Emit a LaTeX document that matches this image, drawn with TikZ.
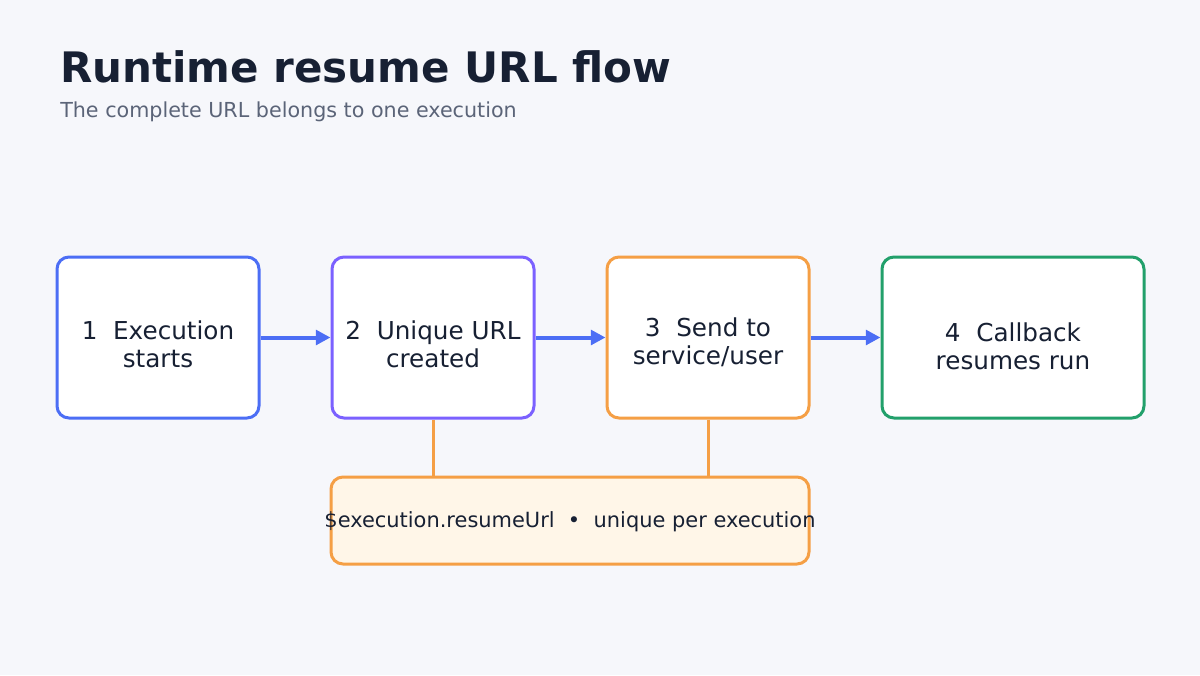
\documentclass[tikz,border=0pt]{standalone}
\usepackage{fontspec}
\setmainfont{DejaVu Sans}
\usetikzlibrary{arrows.meta}
\definecolor{bg}{HTML}{F6F7FB}
\definecolor{ink}{HTML}{172033}
\definecolor{sub}{HTML}{5B6478}
\definecolor{cblue}{HTML}{4C6EF5}
\definecolor{cpurp}{HTML}{7B61FF}
\definecolor{corange}{HTML}{F59F45}
\definecolor{cgreen}{HTML}{22A06B}
\definecolor{cream}{HTML}{FFF6E8}
\begin{document}
\begin{tikzpicture}[x=0.75pt,y=-0.75pt,
  box/.style={draw, line width=2.25pt, fill=white, rounded corners=9pt, inner sep=0pt, minimum height=120.75pt},
  lbl/.style={align=center, font=\fontsize{18.5}{21}\selectfont, text=ink, inner sep=0pt},
  arr/.style={draw=cblue, line width=3pt, -{Triangle[length=11pt,width=11pt]}},
  link/.style={draw=corange, line width=2.25pt}]
\fill[bg] (0,0) rectangle (1200,675);
\useasboundingbox (0,0) rectangle (1200,675);
\node[anchor=base west, inner sep=0pt, font=\fontsize{31.5}{36}\selectfont\bfseries, text=ink] (title) at (60,82) {Runtime resume URL flow};
\node[anchor=base west, inner sep=0pt, font=\fontsize{15.5}{18}\selectfont, text=sub] (subt) at (60,117) {The complete URL belongs to one execution};
\node[box, draw=cblue, minimum width=151.5pt] (b1) at (158,337.5) {};
\node[box, draw=cpurp, minimum width=151.5pt] (b2) at (433,337.5) {};
\node[box, draw=corange, minimum width=151.5pt] (b3) at (708,337.5) {};
\node[box, draw=cgreen, minimum width=196.5pt] (b4) at (1013,337.5) {};
\node[lbl] (t1) at (158,344) {1\ \ Execution\\starts};
\node[lbl] (t2) at (433,344) {2\ \ Unique URL\\created};
\node[lbl] (t3) at (708,342) {3\ \ Send to\\service/user};
\node[lbl] (t4) at (1013,346) {4\ \ Callback\\resumes run};
\node[box, draw=corange, fill=cream, minimum width=358.5pt, minimum height=65.25pt] (note) at (570,520.5) {};
\node[lbl, font=\fontsize{15.7}{18}\selectfont] (nt) at (570,522) {\$execution.resumeUrl\ \ •\ \ unique per execution};
\draw[arr] (b1.east) -- (b2.west);
\draw[arr] (b2.east) -- (b3.west);
\draw[arr] (b3.east) -- (b4.west);
\draw[link] (b2.south) -- (note.north -| b2.south);
\draw[link] (b3.south) -- (note.north -| b3.south);
\end{tikzpicture}
\end{document}
